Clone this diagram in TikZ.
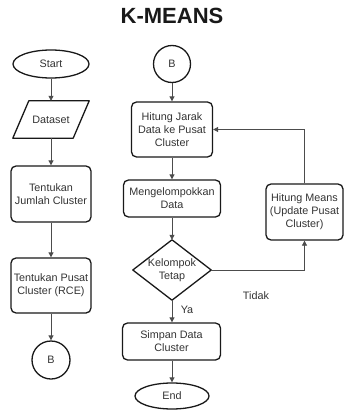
\documentclass[tikz,border=0pt]{standalone}
\usepackage{fontspec}
\setmainfont{Liberation Sans}
\usetikzlibrary{shapes.geometric,arrows.meta}
\begin{document}
\begin{tikzpicture}[x=1pt,y=-1pt,
  every node/.style={font=\fontsize{10.8}{13}\selectfont, text=black!80, align=center},
  box/.style={draw=black!90, line width=1.3pt, rounded corners=5pt, inner sep=0pt},
  term/.style={draw=black!90, ellipse, line width=1.3pt, inner sep=0pt},
  conn/.style={draw=black!90, circle, line width=1.3pt, inner sep=0pt},
  shapeline/.style={draw=black!90, line width=1.3pt, line join=round},
  arr/.style={draw=black!70, line width=0.8pt, -{Triangle[length=5pt,width=5pt]}}
]
\useasboundingbox (0,0) rectangle (344,412);

\node[font=\fontsize{22}{26}\bfseries\selectfont, text=black!90] (title) at (172,16) {K-MEANS};

% left column
\node[term, minimum width=76pt, minimum height=28pt] (start) at (51,64) {Start};
\node[inner sep=0pt, minimum width=76pt, minimum height=37pt] (dataset) at (51,119.5) {Dataset};
\draw[shapeline] ([xshift=16pt]dataset.north west) -- (dataset.north east)
  -- ([xshift=-16pt]dataset.south east) -- (dataset.south west) -- cycle;
\node[box, minimum width=80pt, minimum height=56pt] (jumlah) at (51,194) {Tentukan\\Jumlah Cluster};
\node[box, minimum width=80pt, minimum height=55pt] (pusat) at (51,285.5) {Tentukan Pusat\\Cluster (RCE)};
\node[conn, minimum size=38pt] (bleft) at (51,360) {B};

\draw[arr] (start) -- (dataset);
\draw[arr] (dataset) -- (jumlah);
\draw[arr] (jumlah) -- (pusat);
\draw[arr] (pusat) -- (bleft);

% right column
\node[conn, minimum size=37pt] (btop) at (172,64) {B};
\node[box, minimum width=81pt, minimum height=55pt] (jarak) at (172,129.5) {Hitung Jarak\\Data ke Pusat\\Cluster};
\node[box, minimum width=97pt, minimum height=37pt] (kelompok) at (172,198.5) {Mengelompokkan\\Data};
\node[inner sep=0pt, minimum width=78pt, minimum height=60pt] (dec) at (172,270) {Kelompok\\Tetap};
\draw[shapeline] (dec.north) -- (dec.east) -- (dec.south) -- (dec.west) -- cycle;
\node[box, minimum width=98pt, minimum height=37pt] (simpan) at (171.5,341.5) {Simpan Data\\Cluster};
\node[term, minimum width=74pt, minimum height=26pt] (end) at (172,396) {End};
\node[box, minimum width=77pt, minimum height=56pt] (means) at (304.5,212) {Hitung Means\\(Update Pusat\\Cluster)};

\draw[arr] (btop) -- (jarak);
\draw[arr] (jarak) -- (kelompok);
\draw[arr] (kelompok) -- (dec.north);
\draw[arr] (dec.south) -- (simpan.north -| dec.south);
\draw[arr] (simpan.south -| end.north) -- (end);
\draw[arr] (dec.east) -| (means.south);
\draw[arr] (means.north) |- (jarak.east);

\node (ya) at (187,310) {Ya};
\node (tidak) at (256,296) {Tidak};
\end{tikzpicture}
\end{document}
